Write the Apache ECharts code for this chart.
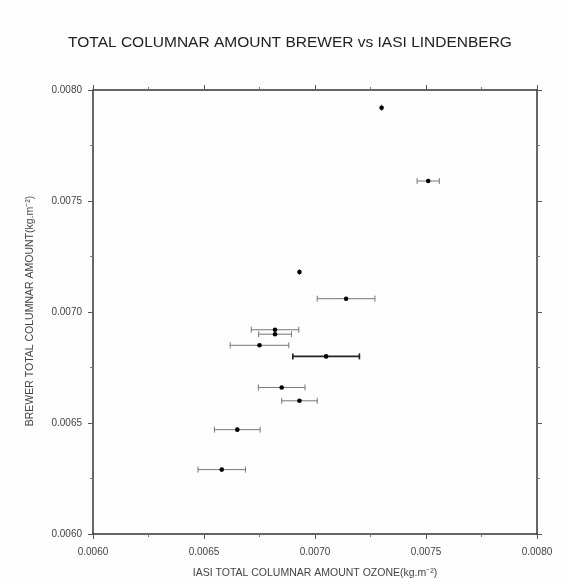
<!DOCTYPE html>
<html>
<head>
<meta charset="utf-8">
<script src="https://cdn.jsdelivr.net/npm/echarts@6/dist/echarts.min.js"></script>
<style>html,body{margin:0;padding:0;background:#fdfdfd;}#c{width:568px;height:578px;}</style>
</head>
<body>
<div id="c"></div>
<script>
// IASI total columnar amount ozone (x), Brewer (y), IASI error (half-width)
const iasiX   = [0.00730, 0.00751, 0.00693, 0.00714, 0.00682, 0.00682, 0.00675, 0.00705, 0.00685, 0.00693, 0.00665, 0.00658];
const brewerY = [0.00792, 0.00759, 0.00718, 0.00706, 0.00692, 0.00690, 0.00685, 0.00680, 0.00666, 0.00660, 0.00647, 0.00629];
const iasiErr = [0.0, 0.000050, 0.0, 0.000130, 0.000107, 0.000074, 0.000132, 0.000150, 0.000105, 0.000080, 0.000103, 0.000107];
const darkBar = [0, 0, 0, 0, 0, 0, 0, 1, 0, 0, 0, 0];
const xTicks = [0.0060, 0.0065, 0.0070, 0.0075, 0.0080];
const yTicks = [0.0060, 0.0065, 0.0070, 0.0075, 0.0080];

const data = iasiX.map((x, i) => [x, brewerY[i], iasiErr[i], darkBar[i]]);
const chart = echarts.init(document.getElementById('c'), null, {renderer: 'canvas'});
const fmt = v => v.toFixed(4);
const FONT = '"Liberation Sans", Arial, sans-serif';
const axisCommon = {
  type: 'value', min: xTicks[0], max: xTicks[xTicks.length - 1], interval: 0.0005,
  axisLine: {show: true, onZero: false, lineStyle: {color: '#333', width: 1.5}},
  axisTick: {show: true, length: 5, lineStyle: {color: '#555', width: 1}},
  minorTick: {show: true, splitNumber: 2, length: 3, lineStyle: {color: '#777', width: 1}},
  splitLine: {show: false},
  axisLabel: {color: '#444', fontSize: 10, fontFamily: 'Liberation Sans, Arial, sans-serif', formatter: fmt}
};
chart.setOption({
  backgroundColor: '#fdfdfd',
  animation: false,
  grid: {left: 93, right: 31, top: 90, bottom: 44},
  xAxis: [
    Object.assign({}, axisCommon, {position: 'bottom', axisLabel: Object.assign({}, axisCommon.axisLabel, {margin: 13})}),
    Object.assign({}, axisCommon, {position: 'top', axisLabel: {show: false}})
  ],
  yAxis: [
    Object.assign({}, axisCommon, {min: yTicks[0], max: yTicks[yTicks.length - 1], position: 'left', axisLabel: Object.assign({}, axisCommon.axisLabel, {margin: 11})}),
    Object.assign({}, axisCommon, {min: yTicks[0], max: yTicks[yTicks.length - 1], position: 'right', axisLabel: {show: false}})
  ],
  graphic: [
    {type: 'text', x: 290, y: 43, style: {text: 'TOTAL COLUMNAR AMOUNT BREWER vs IASI LINDENBERG', fill: '#222', font: '15.5px ' + FONT, align: 'center', verticalAlign: 'middle'}},
    {type: 'text', x: 315, y: 573, style: {text: 'IASI TOTAL COLUMNAR AMOUNT OZONE(kg.m⁻²)', fill: '#444', font: '10.5px ' + FONT, align: 'center', verticalAlign: 'middle'}},
    {type: 'text', x: 30, y: 311, rotation: Math.PI / 2, style: {text: 'BREWER TOTAL COLUMNAR AMOUNT(kg.m⁻²)', fill: '#444', font: '10.5px ' + FONT, align: 'center', verticalAlign: 'middle'}}
  ],
  series: [{
    type: 'custom',
    xAxisIndex: 0, yAxisIndex: 0,
    data: data,
    renderItem: function (params, api) {
      const x = api.value(0), y = api.value(1), e = api.value(2), dark = api.value(3);
      const pL = api.coord([x - e, y]);
      const pR = api.coord([x + e, y]);
      const pC = api.coord([x, y]);
      const col = dark ? '#222' : '#777';
      const w = dark ? 1.6 : 1;
      const cap = 3;
      return {
        type: 'group',
        children: [
          {type: 'line', shape: {x1: pL[0], y1: pL[1], x2: pR[0], y2: pR[1]}, style: {stroke: col, lineWidth: w}},
          {type: 'line', shape: {x1: pL[0], y1: pL[1] - cap, x2: pL[0], y2: pL[1] + cap}, style: {stroke: col, lineWidth: w}},
          {type: 'line', shape: {x1: pR[0], y1: pR[1] - cap, x2: pR[0], y2: pR[1] + cap}, style: {stroke: col, lineWidth: w}},
          {type: 'circle', shape: {cx: pC[0], cy: pC[1], r: 2.3}, style: {fill: '#000'}}
        ]
      };
    }
  }]
});
</script>
</body>
</html>
